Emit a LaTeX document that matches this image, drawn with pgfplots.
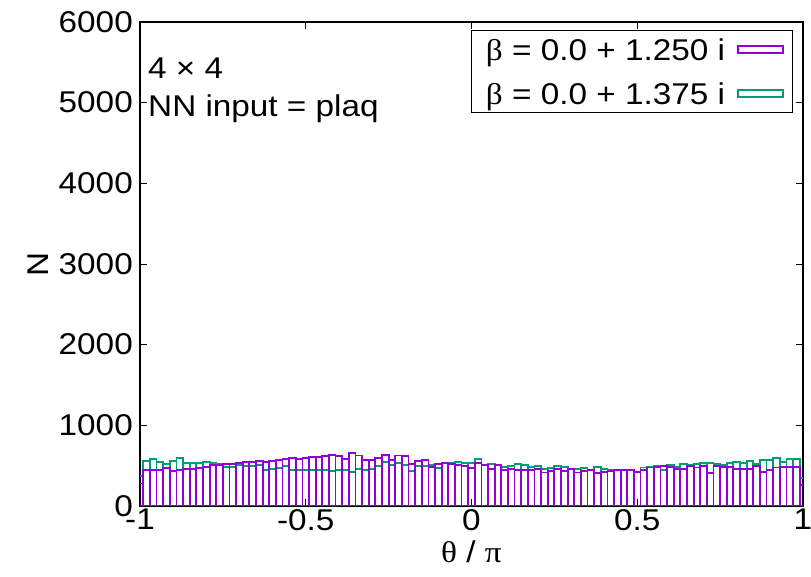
\documentclass[border=0pt]{standalone}
\usepackage{fontspec}
\setmainfont{Liberation Sans}[FakeStretch=1.11]
\newfontfamily\gk{Liberation Serif}[FakeStretch=1.11]
\usepackage{pgfplots}
\usepackage{pgfplotstable}
\pgfplotsset{compat=1.18}
\definecolor{cP}{HTML}{9400D3}
\definecolor{cG}{HTML}{009E73}
\pgfplotstableread{
x p g
-1.00 279 369
-0.98 443 558
-0.96 443 578
-0.94 443 545
-0.92 467 525
-0.90 435 558
-0.88 443 590
-0.86 455 533
-0.84 463 533
-0.82 471 533
-0.80 484 545
-0.78 504 529
-0.76 504 525
-0.74 516 484
-0.72 525 484
-0.70 533 504
-0.68 541 492
-0.66 545 500
-0.64 553 504
-0.62 549 443
-0.60 558 463
-0.58 574 475
-0.56 580 492
-0.54 590 443
-0.52 586 443
-0.50 594 443
-0.48 603 443
-0.46 607 451
-0.44 615 451
-0.42 636 435
-0.40 619 451
-0.38 586 443
-0.36 660 418
-0.34 627 463
-0.32 574 451
-0.30 574 455
-0.28 594 492
-0.26 636 545
-0.24 566 504
-0.22 627 533
-0.20 615 504
-0.18 525 435
-0.16 558 492
-0.14 574 492
-0.12 484 504
-0.10 525 475
-0.08 533 537
-0.06 517 537
-0.04 508 541
-0.02 500 533
0.00 475 533
0.02 533 586
0.04 512 504
0.06 463 525
0.08 504 504
0.10 451 484
0.12 463 492
0.14 451 516
0.16 443 504
0.18 443 484
0.20 463 500
0.22 414 463
0.24 435 475
0.26 463 492
0.28 430 484
0.30 463 463
0.32 414 459
0.34 435 467
0.36 451 451
0.38 410 484
0.40 418 463
0.42 435 443
0.44 443 451
0.46 443 451
0.48 443 443
0.50 422 422
0.52 451 476
0.54 476 484
0.56 484 492
0.58 492 451
0.60 484 504
0.62 463 484
0.64 463 525
0.66 492 508
0.68 476 517
0.70 492 533
0.72 410 533
0.74 500 525
0.76 484 504
0.78 484 537
0.80 463 545
0.82 463 537
0.84 459 558
0.86 492 517
0.88 422 566
0.90 451 566
0.92 476 595
0.94 484 545
0.96 484 582
0.98 484 582
1.00 258 349
}\hist
\begin{document}
\fontsize{30bp}{36bp}\selectfont
\begin{tikzpicture}
\begin{axis}[
  scale only axis, width=663bp, height=484bp,
  xmin=-1, xmax=1, ymin=0, ymax=6000,
  xtick={-1,-0.5,0,0.5,1}, xticklabels={-1,-0.5,0,0.5,1},
  ytick={0,1000,2000,3000,4000,5000,6000},
  yticklabels={0,1000,2000,3000,4000,5000,6000},
  scaled ticks=false,
  /pgf/number format/assume math mode=true,
  tick align=inside, major tick length=7bp,
  tick style={black, line width=0.8bp},
  axis line style={black, line width=1.2bp},
  xticklabel style={inner sep=0pt, anchor=north, yshift=-3bp},
  yticklabel style={inner sep=0pt, anchor=east, xshift=-7bp},
  xlabel={{\gk θ} / {\gk π}},
  ylabel={N},
  xlabel style={at={(axis description cs:0.5,-0.095)}, anchor=center},
  ylabel style={at={(axis description cs:-0.1538,0.5)}, anchor=center},
  legend image code/.code={\draw[#1, line width=1.6bp, fill=none] (0bp,-3.5bp) rectangle (45bp,3.5bp);},
  legend plot pos=right, legend cell align=right,
  legend style={at={(axis description cs:0.985,0.9835)}, anchor=north east,
    draw=black, line width=0.8bp, inner xsep=9bp, inner ysep=8bp,
    column sep=12bp, row sep=22bp,
    nodes={inner sep=0pt, text height=22bp, text depth=0pt}},
]
\addplot[ybar, bar width=0.02, bar shift=0pt, draw=cG, fill=none, line width=1.8bp, forget plot] table[x=x,y=g]{\hist};
\addplot[ybar, bar width=0.02, bar shift=0pt, draw=cP, fill=none, line width=1.8bp, forget plot] table[x=x,y=p]{\hist};
\addlegendimage{draw=cP}
\addlegendentry{\hspace*{6bp}{\gk β} = 0.0 + 1.250 i}
\addlegendimage{draw=cG}
\addlegendentry{\hspace*{6bp}{\gk β} = 0.0 + 1.375 i}
\node[anchor=north west, inner sep=0pt] at (axis description cs:0.0121,0.9256) {4 × 4};
\node[anchor=north west, inner sep=0pt] at (axis description cs:0.0121,0.8492) {NN input = plaq};
\coordinate (A) at (axis description cs:0,0);
\coordinate (B) at (axis description cs:1,1);
\end{axis}
\pgfresetboundingbox
\path[use as bounding box] ([xshift=-140bp,yshift=-71bp]A) rectangle ([xshift=8bp,yshift=22bp]B);
\end{tikzpicture}
\end{document}
